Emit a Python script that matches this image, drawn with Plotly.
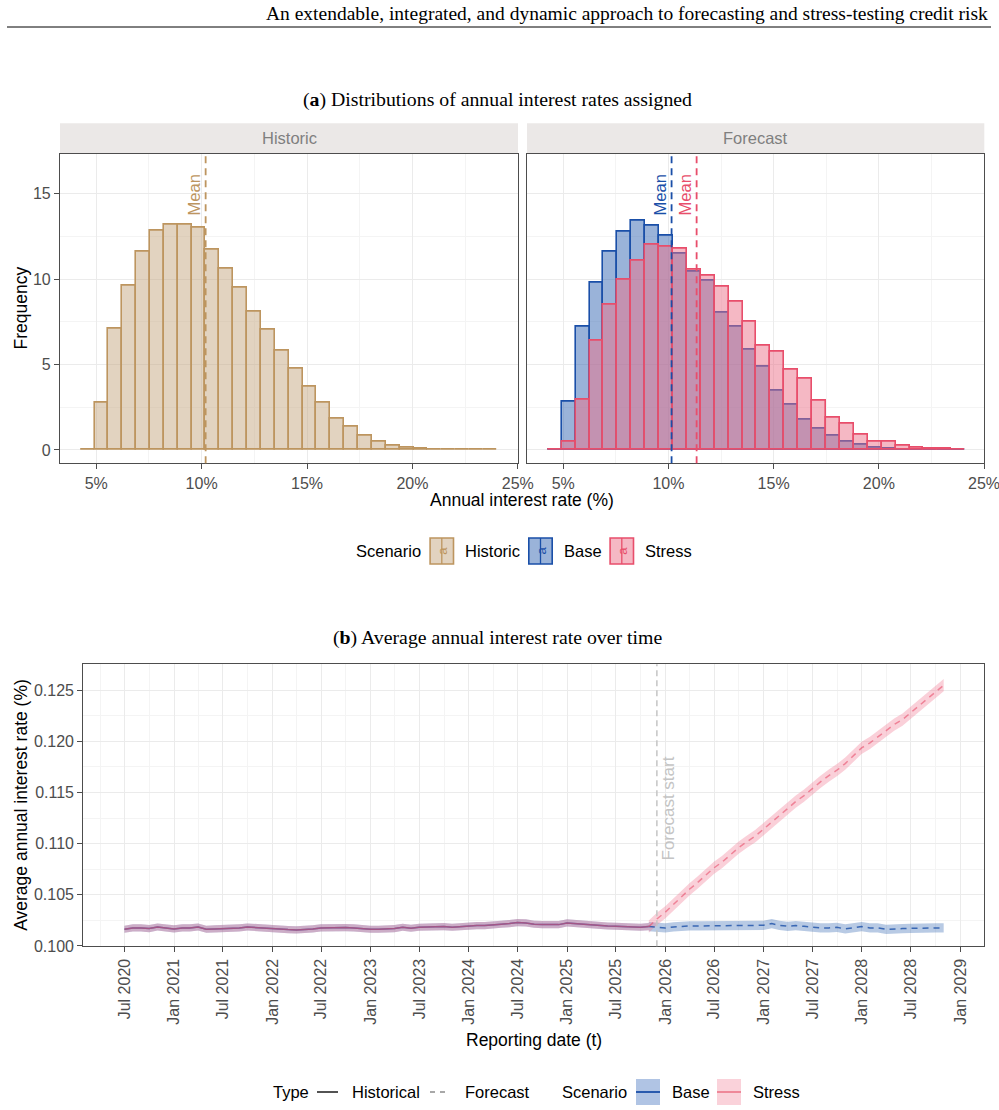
import plotly.graph_objects as go
import pandas as pd

# ---------------- data ----------------
HIST_BIN_START = 4.26
HIST_BIN_WIDTH = 0.658
FCST_BIN_START = 4.27
FCST_BIN_WIDTH = 0.661

historic_freq = [0.02, 2.77, 7.10, 9.60, 11.61, 12.81, 13.19, 13.20, 13.01, 11.70,
                 10.63, 9.52, 8.07, 7.02, 5.79, 4.74, 3.69, 2.77, 1.85, 1.38,
                 0.86, 0.49, 0.25, 0.14, 0.08, 0.03, 0.01, 0.01, 0.01, 0.01]
base_freq = [0.01, 2.83, 7.24, 9.79, 11.59, 12.76, 13.42, 13.15, 12.52, 11.51,
             10.42, 9.93, 8.06, 7.20, 5.85, 4.88, 3.45, 2.63, 1.79, 1.23,
             0.84, 0.47, 0.33, 0.14, 0.06, 0.03, 0.02, 0.01, 0.01, 0.01]
stress_freq = [0.02, 0.49, 2.96, 6.42, 8.52, 9.95, 11.08, 12.01, 11.90, 11.78,
               10.55, 10.22, 9.56, 8.68, 7.51, 6.10, 5.75, 4.68, 4.17, 2.87,
               1.89, 1.52, 0.88, 0.51, 0.47, 0.23, 0.12, 0.10, 0.10, 0.02]
mean_historic = 10.19
mean_base = 10.15
mean_stress = 11.34

dates = pd.date_range("2020-06-30", "2028-10-31", freq="ME")
hist_rate = [0.101633, 0.101764, 0.101764, 0.101699, 0.101861, 0.101796, 0.101666, 0.101764,
             0.101764, 0.101861, 0.101633, 0.101666, 0.101699, 0.101699, 0.101764, 0.101861,
             0.101796, 0.101764, 0.101731, 0.101666, 0.101601, 0.101568, 0.101601, 0.101666,
             0.101764, 0.101796, 0.101796, 0.101796, 0.101764, 0.101666, 0.101633, 0.101633,
             0.101633, 0.101699, 0.101829, 0.101731, 0.101829, 0.101861, 0.101894, 0.101894,
             0.101829, 0.101894, 0.101959, 0.101992, 0.101992, 0.102024, 0.102122, 0.102188,
             0.102285, 0.102253, 0.102122, 0.102090, 0.102057, 0.102090, 0.102253, 0.102188,
             0.102090, 0.102024, 0.101992, 0.101959, 0.101927, 0.101894, 0.101796, 0.101829,
             0.101894]
base_rate = [0.101796, 0.101764, 0.101861, 0.101927, 0.101959, 0.101959, 0.101959, 0.101959,
             0.101992, 0.101992, 0.102024, 0.101992, 0.101959, 0.102024, 0.102188, 0.102024,
             0.101927, 0.101992, 0.101927, 0.101829, 0.101764, 0.101764, 0.101829, 0.101666,
             0.101764, 0.101894, 0.101764, 0.101764, 0.101633, 0.101699, 0.101699, 0.101731,
             0.101764, 0.101764, 0.101764, 0.101764]
stress_rate = [0.102644, 0.103296, 0.104078, 0.104795, 0.105545, 0.106198, 0.106914, 0.107632,
               0.108218, 0.108903, 0.109620, 0.110207, 0.110729, 0.111413, 0.112098, 0.112750,
               0.113402, 0.114119, 0.114706, 0.115391, 0.116042, 0.116662, 0.117183, 0.117836,
               0.118618, 0.119367, 0.119856, 0.120443, 0.121095, 0.121650, 0.122139, 0.122790,
               0.123508, 0.124095, 0.124812, 0.125496]
hist_band = 0.00035
base_band = 0.00045
stress_band = 0.0006
forecast_start = "2025-11-30"

# ---------------- helpers ----------------
W, H = 999, 1110
SANS = "Liberation Sans, Arial, sans-serif"
SERIF = "Liberation Serif, Times New Roman, serif"
TICK = "#4D4D4D"


def px(x):
    return x / W


def py(y):
    return 1 - y / H


C_HIST_FILL = "rgba(197,167,129,0.5)"
C_HIST_LINE = "#BD955F"
C_BASE_FILL = "rgba(53,103,179,0.5)"
C_BASE_LINE = "#1A4FA8"
C_STRESS_FILL = "rgba(235,113,137,0.5)"
C_STRESS_LINE = "#E84E6B"

fig = go.Figure()

hist_x = [HIST_BIN_START + (k + 0.5) * HIST_BIN_WIDTH for k in range(len(historic_freq))]
fc_x = [FCST_BIN_START + (k + 0.5) * FCST_BIN_WIDTH for k in range(len(base_freq))]

fig.add_trace(go.Bar(x=hist_x, y=historic_freq, width=HIST_BIN_WIDTH, xaxis="x", yaxis="y",
                     marker=dict(color=C_HIST_FILL, line=dict(color=C_HIST_LINE, width=1.6)),
                     showlegend=False, hoverinfo="skip"))
fig.add_trace(go.Bar(x=fc_x, y=base_freq, width=FCST_BIN_WIDTH, xaxis="x2", yaxis="y2",
                     marker=dict(color=C_BASE_FILL, line=dict(color=C_BASE_LINE, width=1.6)),
                     showlegend=False, hoverinfo="skip"))
fig.add_trace(go.Bar(x=fc_x, y=stress_freq, width=FCST_BIN_WIDTH, xaxis="x2", yaxis="y2",
                     marker=dict(color=C_STRESS_FILL, line=dict(color=C_STRESS_LINE, width=1.6)),
                     showlegend=False, hoverinfo="skip"))

# ---------------- time series ----------------
n_hist = len(hist_rate)
d_hist = list(dates[:n_hist])
d_fc = list(dates[n_hist - 1:])
base_fc = [hist_rate[-1]] + base_rate
stress_fc = [hist_rate[-1]] + stress_rate

RB_BASE = "rgba(53,103,179,0.35)"
RB_STRESS = "rgba(240,120,145,0.35)"


def ribbon(xs, ys, band, color):
    lo = [v - band for v in ys]
    hi = [v + band for v in ys]
    fig.add_trace(go.Scatter(x=xs, y=lo, xaxis="x3", yaxis="y3", mode="lines",
                             line=dict(width=0, color=color), showlegend=False, hoverinfo="skip"))
    fig.add_trace(go.Scatter(x=xs, y=hi, xaxis="x3", yaxis="y3", mode="lines", fill="tonexty",
                             fillcolor=color, line=dict(width=0, color=color),
                             showlegend=False, hoverinfo="skip"))


ribbon(d_hist, hist_rate, hist_band, RB_BASE)
ribbon(d_fc, base_fc, base_band, RB_BASE)
ribbon(d_hist, hist_rate, hist_band, RB_STRESS)
ribbon(d_fc, stress_fc, stress_band, RB_STRESS)

LN_BASE = "rgba(26,79,168,0.8)"
LN_STRESS = "rgba(232,78,107,0.6)"
fig.add_trace(go.Scatter(x=d_hist, y=hist_rate, xaxis="x3", yaxis="y3", mode="lines",
                         line=dict(color=LN_BASE, width=1.5), showlegend=False))
fig.add_trace(go.Scatter(x=d_fc, y=base_fc, xaxis="x3", yaxis="y3", mode="lines",
                         line=dict(color=LN_BASE, width=1.5, dash="6px,5px"), showlegend=False))
fig.add_trace(go.Scatter(x=d_hist, y=hist_rate, xaxis="x3", yaxis="y3", mode="lines",
                         line=dict(color=LN_STRESS, width=1.5), showlegend=False))
fig.add_trace(go.Scatter(x=d_fc, y=stress_fc, xaxis="x3", yaxis="y3", mode="lines",
                         line=dict(color=LN_STRESS, width=1.5, dash="6px,5px"), showlegend=False))

# ---------------- axes ----------------
grid = "#EBEBEB"
minor_grid = "#F4F4F4"
common = dict(showline=True, mirror=True, linecolor="#4D4D4D", linewidth=1.2,
              gridcolor=grid, gridwidth=1, zeroline=False, ticks="outside", ticklen=5,
              tickcolor="#4D4D4D", automargin=False, ticklabeloverflow="allow",
              tickfont=dict(family=SANS, size=16, color=TICK))
hx = dict(common, range=[3.28, 25.01], tickvals=[5, 10, 15, 20, 25],
          ticktext=["5%", "10%", "15%", "20%", "25%"],
          minor=dict(tickvals=[7.5, 12.5, 17.5, 22.5], showgrid=True, gridcolor=minor_grid,
                     ticks=""))
hy = dict(common, range=[-0.78, 17.34], tickvals=[0, 5, 10, 15],
          minor=dict(tickvals=[2.5, 7.5, 12.5, 17.5], showgrid=True, gridcolor=minor_grid,
                     ticks=""))

fig.update_layout(
    xaxis=dict(hx, domain=[px(60), px(518)], anchor="y"),
    yaxis=dict(hy, domain=[py(463.3), py(153.7)], anchor="x"),
    xaxis2=dict(hx, domain=[px(527), px(984.3)], anchor="y2"),
    yaxis2=dict(hy, domain=[py(463.3), py(153.7)], anchor="x2", showticklabels=False,
                ticks=""),
    xaxis3=dict(common, type="date", domain=[px(83.3), px(984.3)], anchor="y3",
                range=["2020-01-29", "2029-03-31"], tick0="2020-07-01", dtick="M6",
                tickformat="%b %Y", tickangle=-90,
                minor=dict(tick0="2020-01-01", dtick="M3", showgrid=True,
                           gridcolor=minor_grid, ticks="")),
    yaxis3=dict(common, domain=[py(946.3), py(664.3)], anchor="x3",
                range=[0.09997, 0.12754], tick0=0.1, dtick=0.005, tickformat=".3f",
                minor=dict(tick0=0.1, dtick=0.0025, showgrid=True, gridcolor=minor_grid,
                           ticks="")),
    barmode="overlay",
    bargap=0,
    width=W, height=H, autosize=False,
    margin=dict(l=0, r=0, t=0, b=0, pad=0, autoexpand=False),
    paper_bgcolor="white", plot_bgcolor="white",
    showlegend=False,
)

shapes = []
annotations = []


def ann(text, x, y, size=16.5, color="#000000", xanchor="center", yanchor="middle",
        angle=0, family=SANS, xref="paper", yref="paper", xshift=0):
    annotations.append(dict(text=text, x=x, y=y, xref=xref, yref=yref, showarrow=False,
                            xanchor=xanchor, yanchor=yanchor, textangle=angle, xshift=xshift,
                            font=dict(family=family, size=size, color=color)))


# header
ann("An extendable, integrated, and dynamic approach to forecasting and stress-testing credit risk",
    px(990), py(14), size=19.5, family=SERIF, xanchor="right")
shapes.append(dict(type="line", xref="paper", yref="paper", x0=px(7), x1=px(991),
                   y0=py(27), y1=py(27), line=dict(color="black", width=1)))

# titles
ann("(<b>a</b>) Distributions of annual interest rates assigned", px(497), py(100),
    size=19.8, family=SERIF)
ann("(<b>b</b>) Average annual interest rate over time", px(497), py(637),
    size=19.8, family=SERIF)

# strips
for (x0, x1, lab) in [(60, 518, "Historic"), (527, 984.3, "Forecast")]:
    shapes.append(dict(type="rect", xref="paper", yref="paper", x0=px(x0), x1=px(x1),
                       y0=py(153.7), y1=py(123.3), fillcolor="#EBE8E7", line=dict(width=0),
                       layer="below"))
    ann(lab, px((x0 + x1) / 2), py(138.5), size=16.5, color="#7F7F7F")

# axis titles
ann("Frequency", px(21), py(308.5), size=17.5, angle=-90)
ann("Annual interest rate (%)", px(522), py(500), size=17.5)
ann("Average annual interest rate (%)", px(21.5), py(805.3), size=17.5, angle=-90)
ann("Reporting date (t)", px(534), py(1040), size=17.5)

# mean lines
for (xr, yr, m, col) in [("x", "y", mean_historic, C_HIST_LINE),
                         ("x2", "y2", mean_base, C_BASE_LINE),
                         ("x2", "y2", mean_stress, C_STRESS_LINE)]:
    shapes.append(dict(type="line", xref=xr, yref=yr + " domain", x0=m, x1=m, y0=0, y1=1,
                       line=dict(color=col, width=1.8, dash="7px,5px")))
    ann("Mean", m, 16.25, size=16.5, color=col, xanchor="right", yanchor="top", angle=-90,
        xref=xr, yref=yr, xshift=-1)

# forecast start
shapes.append(dict(type="line", xref="x3", yref="y3 domain", x0=forecast_start,
                   x1=forecast_start, y0=0, y1=1,
                   line=dict(color="#C4C4C4", width=1.5, dash="6px,4px")))
ann("Forecast start", forecast_start, 0.1082, size=17, color="#C4C4C4", xanchor="left",
    yanchor="bottom", angle=-90, xref="x3", yref="y3")

# top legend
ann("Scenario", px(354), py(551.5), xanchor="left")
for (kx, lab, fill, line) in [(429.3, "Historic", C_HIST_FILL, C_HIST_LINE),
                              (528.0, "Base", C_BASE_FILL, C_BASE_LINE),
                              (609.3, "Stress", C_STRESS_FILL, C_STRESS_LINE)]:
    shapes.append(dict(type="rect", xref="paper", yref="paper", x0=px(kx + 0.8),
                       x1=px(kx + 24.2), y0=py(564), y1=py(538),
                       fillcolor=fill, line=dict(color=line, width=1.6)))
    shapes.append(dict(type="line", xref="paper", yref="paper", x0=px(kx + 12.5),
                       x1=px(kx + 12.5), y0=py(564), y1=py(538),
                       line=dict(color=line, width=1.3)))
    ann("a", px(kx + 12.5), py(551), size=13, color=line, angle=-90)
    ann(lab, px(kx + 34), py(551.5), xanchor="left")

# bottom legend
ann("Type", px(271), py(1092), xanchor="left")
shapes.append(dict(type="line", xref="paper", yref="paper", x0=px(317), x1=px(338),
                   y0=py(1092), y1=py(1092), line=dict(color="#1A1A1A", width=1.5)))
ann("Historical", px(350), py(1092), xanchor="left")
shapes.append(dict(type="line", xref="paper", yref="paper", x0=px(430), x1=px(450),
                   y0=py(1092), y1=py(1092),
                   line=dict(color="#8C8C8C", width=1.5, dash="5px,5px")))
ann("Forecast", px(463), py(1092), xanchor="left")
ann("Scenario", px(560), py(1092), xanchor="left")
for (kx, lab, fill, line) in [(636, "Base", "rgb(176,196,228)", "#1A4FA8"),
                              (717, "Stress", "rgb(250,210,218)", "#EE7F92")]:
    shapes.append(dict(type="rect", xref="paper", yref="paper", x0=px(kx), x1=px(kx + 24),
                       y0=py(1105), y1=py(1079), fillcolor=fill, line=dict(width=0)))
    shapes.append(dict(type="line", xref="paper", yref="paper", x0=px(kx), x1=px(kx + 24),
                       y0=py(1092), y1=py(1092), line=dict(color=line, width=1.8)))
    ann(lab, px(kx + 34), py(1092), xanchor="left")

fig.update_layout(shapes=shapes, annotations=annotations)
fig.write_html("out.html")
